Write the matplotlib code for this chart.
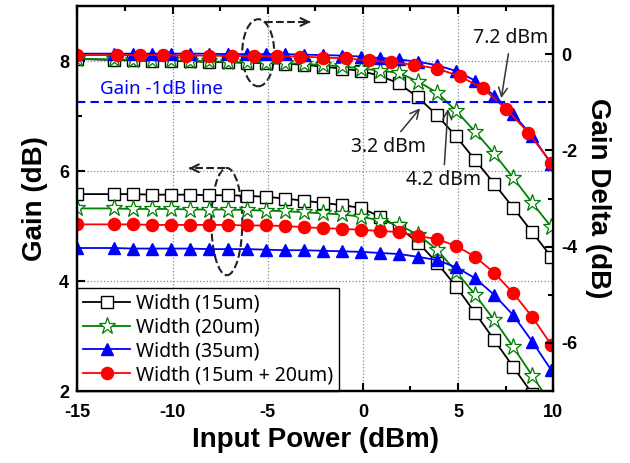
import numpy as np
import matplotlib
matplotlib.use("Agg")
import matplotlib.pyplot as plt
from matplotlib.patches import Ellipse

# input power points (dBm)
x_pts = [-15, -13.1, -12.1, -11.1, -10.1, -9.1, -8.1, -7.1, -6.1, -5.1, -4.1, -3.1,
         -2.1, -1.1, -0.1, 0.9, 1.9, 2.9, 3.9, 4.9, 5.9, 6.9, 7.9, 8.9, 9.9]
x_red_top = [-15, -12.9, -11.7, -10.5, -9.3, -8.1, -6.9, -5.7, -4.5, -3.3, -2.1,
             -0.9, 0.3, 1.5, 2.7, 3.9, 5.1, 6.3, 7.5, 8.7, 9.9]

# gain (left axis)
gain_15 = [5.58, 5.58, 5.58, 5.57, 5.57, 5.57, 5.56, 5.56, 5.55, 5.53, 5.50, 5.46,
           5.42, 5.38, 5.33, 5.17, 4.97, 4.70, 4.33, 3.90, 3.42, 2.93, 2.44, 1.95, 1.45]
gain_20 = [5.32, 5.32, 5.31, 5.31, 5.31, 5.30, 5.30, 5.30, 5.29, 5.28, 5.27, 5.25,
           5.23, 5.21, 5.17, 5.10, 5.02, 4.84, 4.57, 4.17, 3.75, 3.29, 2.80, 2.28, 1.76]
gain_35 = [4.60, 4.60, 4.59, 4.59, 4.59, 4.59, 4.58, 4.58, 4.58, 4.57, 4.56, 4.56,
           4.55, 4.54, 4.53, 4.51, 4.49, 4.44, 4.38, 4.25, 4.05, 3.75, 3.38, 2.90, 2.38]
gain_1520 = [5.03, 5.03, 5.03, 5.02, 5.02, 5.02, 5.02, 5.02, 5.01, 5.01, 5.00, 4.98,
             4.96, 4.95, 4.93, 4.91, 4.89, 4.82, 4.76, 4.64, 4.44, 4.15, 3.78, 3.35, 2.84]

# gain delta (right axis)
delta_15 = [-0.10, -0.12, -0.13, -0.14, -0.14, -0.15, -0.16, -0.17, -0.18, -0.19, -0.20, -0.22,
            -0.26, -0.30, -0.35, -0.45, -0.61, -0.90, -1.27, -1.71, -2.20, -2.69, -3.19, -3.70, -4.21]
delta_20 = [-0.10, -0.11, -0.12, -0.13, -0.13, -0.14, -0.15, -0.16, -0.17, -0.18, -0.19, -0.20,
            -0.23, -0.25, -0.30, -0.34, -0.39, -0.57, -0.80, -1.18, -1.61, -2.07, -2.57, -3.09, -3.59]
delta_35 = [0.01, 0.01, 0.01, 0.01, 0.01, 0.01, 0.01, 0.00, 0.00, 0.00, 0.00, -0.01,
            -0.02, -0.03, -0.05, -0.08, -0.11, -0.16, -0.23, -0.35, -0.55, -0.86, -1.25, -1.70, -2.28]
delta_1520 = [-0.02, -0.02, -0.02, -0.02, -0.03, -0.03, -0.04, -0.04, -0.04, -0.05, -0.07,
              -0.09, -0.13, -0.17, -0.22, -0.30, -0.46, -0.71, -1.13, -1.63, -2.26]

labels = ["Width (15um)", "Width (20um)", "Width (35um)", "Width (15um + 20um)"]

plt.rcParams['font.family'] = ['Liberation Sans', 'DejaVu Sans']
plt.rcParams['axes.unicode_minus'] = False

fig = plt.figure(figsize=(6.3, 4.63), dpi=100)
ax = fig.add_axes([0.123, 0.1555, 0.755, 0.8315])
ax2 = ax.twinx()

# styles for the four widths
sq = dict(color='black', marker='s', ms=8.2, mfc='white', mec='black', lw=1.3)
st = dict(color='green', marker='*', ms=12.5, mfc='white', mec='green', mew=0.9, lw=1.3)
tr = dict(color='blue', marker='^', ms=9, mfc='blue', mec='blue', lw=1.3)
ci = dict(color='red', marker='o', ms=8.7, mfc='red', mec='red', lw=1.3)

ax.plot(x_pts, gain_15, label=labels[0], **sq)
ax.plot(x_pts, gain_20, label=labels[1], **st)
ax.plot(x_pts, gain_35, label=labels[2], **tr)
ax.plot(x_pts, gain_1520, label=labels[3], **ci)

ax2.plot(x_pts, delta_15, **sq)
ax2.plot(x_pts, delta_20, **st)
ax2.plot(x_pts, delta_35, **tr)
ax2.plot(x_red_top, delta_1520, **ci)

# -1 dB line
ax2.axhline(-1, color='blue', ls='--', lw=1.5, dashes=(4, 2.5))
ax2.text(-13.8, -0.72, "Gain -1dB line", color='blue', fontsize=13.5,
         family='Noto Sans', ha='left', va='center')

ax.set_xlim(-15, 10)
ax.set_ylim(2, 9)
ax2.set_ylim(-7, 1)
ax.set_xticks([-15, -10, -5, 0, 5, 10])
ax.set_xticks(np.arange(-12.5, 10, 5), minor=True)
ax.set_yticks([2, 4, 6, 8])
ax.set_yticks([3, 5, 7], minor=True)
ax2.set_yticks([0, -2, -4, -6])
ax2.set_yticks([-1, -3, -5], minor=True)

ax.grid(True, which='major', ls=':', color='#888888', lw=0.9)

for a in (ax, ax2):
    a.tick_params(which='both', direction='in', width=1.5, labelsize=13, pad=6)
    a.tick_params(which='major', length=6)
    a.tick_params(which='minor', length=3.5)
    for s in a.spines.values():
        s.set_linewidth(1.6)
    for lab in a.get_xticklabels() + a.get_yticklabels():
        lab.set_fontweight('bold')
ax.tick_params(which='both', top=True, right=False)
ax.tick_params(axis='x', pad=9)

ax.set_xlabel("Input Power (dBm)", fontsize=20, fontweight='bold', labelpad=5)
ax.set_ylabel("Gain (dB)", fontsize=20, fontweight='bold', labelpad=8)
ax2.set_ylabel("Gain Delta (dB)", fontsize=20, fontweight='bold', rotation=270, labelpad=24)

leg = ax.legend(loc='lower left', borderaxespad=0, fancybox=False, edgecolor='black',
                framealpha=1, prop={'family': 'Noto Sans', 'size': 14},
                handlelength=2.4, handletextpad=0.3, labelspacing=0.2, borderpad=0.3)
leg.get_frame().set_linewidth(1.0)

# dashed ellipses with direction arrows
ax.add_patch(Ellipse((-5.5, 8.15), 1.68, 1.22, fill=False, ls='--', lw=1.5, ec='#222222'))
ax.add_patch(Ellipse((-7.15, 5.08), 1.63, 1.95, fill=False, ls='--', lw=1.5, ec='#222222'))
ax.plot([-5.15, -2.9], [8.71, 8.71], ls='--', color='#222222', lw=1.5)
ax.annotate('', xy=(-2.6, 8.71), xytext=(-3.0, 8.71),
            arrowprops=dict(arrowstyle='->', color='#222222', lw=1.5, mutation_scale=14))
ax.plot([-7.25, -9.0], [6.05, 6.05], ls='--', color='#222222', lw=1.5)
ax.annotate('', xy=(-9.3, 6.05), xytext=(-8.9, 6.05),
            arrowprops=dict(arrowstyle='->', color='#222222', lw=1.5, mutation_scale=14))

# -1 dB crossing labels
arr = dict(arrowstyle='->', color='#333333', lw=1.1, mutation_scale=16)
txt = dict(fontsize=14, family='Noto Sans', fontweight='medium', color='#111111',
           ha='center', va='center')
ax2.annotate("7.2 dBm", xy=(7.25, -0.97), xytext=(7.78, 0.33), arrowprops=arr, **txt)
ax2.annotate("3.2 dBm", xy=(3.1, -1.08), xytext=(1.34, -1.92), arrowprops=arr, **txt)
ax2.annotate("4.2 dBm", xy=(4.48, -1.08), xytext=(4.23, -2.62), arrowprops=arr, **txt)

fig.savefig("out.png", dpi=100)
